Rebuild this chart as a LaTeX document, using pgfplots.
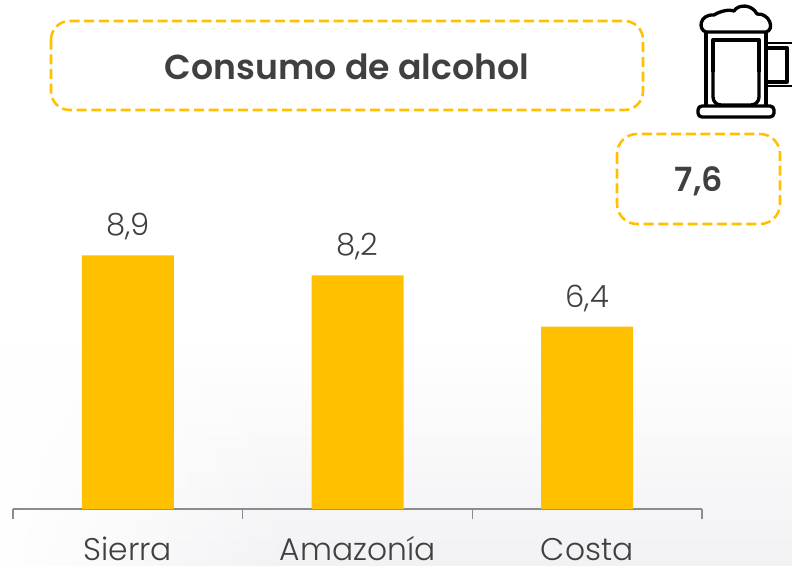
\documentclass[border=0pt]{standalone}
\usepackage{pgfplots}
\pgfplotsset{compat=1.18}
\usetikzlibrary{fadings}
\usepackage{fontspec}
\setmainfont{Poppins Light}[BoldFont={Poppins SemiBold}]
\definecolor{amber}{HTML}{FFC000}
\definecolor{txt}{HTML}{404040}
\definecolor{bgb}{HTML}{F2F2F5}
\definecolor{axisg}{HTML}{8C8C8C}
\begin{document}
\begin{tikzpicture}
\path[use as bounding box] (0,0) rectangle (594pt,-424.5pt);
\begin{scope}[x=0.75pt,y=-0.75pt]
\clip (0,0) rectangle (792,566);
\shade[top color=white,bottom color=bgb,draw=none] (0,340) rectangle (792,566);
\fill[white,path fading=east] (0,340) rectangle (300,566);
% dashed boxes
\draw[amber,line width=1.9pt,dash pattern=on 7.5pt off 3.5pt,rounded corners=14pt] (51,21) rectangle (643,110);
\draw[amber,line width=1.9pt,dash pattern=on 7.5pt off 3.5pt,rounded corners=15pt] (617,134) rectangle (780,224);
\node[txt,font=\fontsize{26}{30}\selectfont\bfseries] at (347,67) {Consumo de alcohol};
\node[txt,font=\fontsize{25}{30}\selectfont\bfseries] at (699,181) {7,6};
% mug
\begin{scope}[black,line width=2.5pt,line join=round]
\draw (706,32) -- (706,106);
\draw (766,32) -- (766,106);
\draw[rounded corners=6pt] (713,72) -- (713,105) -- (759,105) -- (759,72);
\draw (713,72) -- (713,40) -- (759,40) -- (759,72);
\draw[rounded corners=3pt] (698,106) rectangle (774,117);
\draw (706,32) .. controls (698,30) and (699,14) .. (714,15) .. controls (720,11) and (730,9) .. (734,11)
  .. controls (738,4) and (752,4) .. (757,14) .. controls (770,13) and (775,30) .. (766,32) -- cycle;
\draw (767,48) -- (787,48) -- (787,82) -- (767,82);
\draw[line width=1.4pt] (767,43) -- (792,43);
\draw[line width=1.4pt] (767,86) -- (792,86);
\end{scope}
\end{scope}
\begin{axis}[
  at={(9.75pt,-381.75pt)},anchor=origin,
  scale only axis,width=516.75pt,height=213.75pt,
  xmin=0,xmax=3,ymin=0,ymax=10,
  axis y line=none,axis x line*=bottom,
  axis line style={axisg,line width=0.8pt,-},
  xtick={0.5,1.5,2.5},xticklabels={Sierra,Amazonía,Costa},
  major tick length=0pt,
  extra x ticks={0,1,2,3},extra x tick labels={},
  extra x tick style={major tick length=7.5pt,tick style={axisg,line width=0.8pt},tickwidth=7.5pt,tick align=outside},
  xticklabel style={txt,font=\fontsize{23.5}{26}\selectfont,yshift=-38.5pt,anchor=base,inner sep=0pt},
  ybar,bar width=69pt,
  nodes near coords,
  /pgf/number format/.cd,use comma,fixed,fixed zerofill,precision=1,assume math mode=true,
  /pgfplots/.cd,
  every node near coord/.append style={txt,font=\fontsize{23}{26}\selectfont,inner sep=0pt,yshift=11pt,anchor=south},
  clip=false,
]
\addplot[fill=amber,draw=none,bar shift=0pt] coordinates {(0.5,8.9) (1.5,8.2) (2.5,6.4)};
\end{axis}
\end{tikzpicture}
\end{document}
